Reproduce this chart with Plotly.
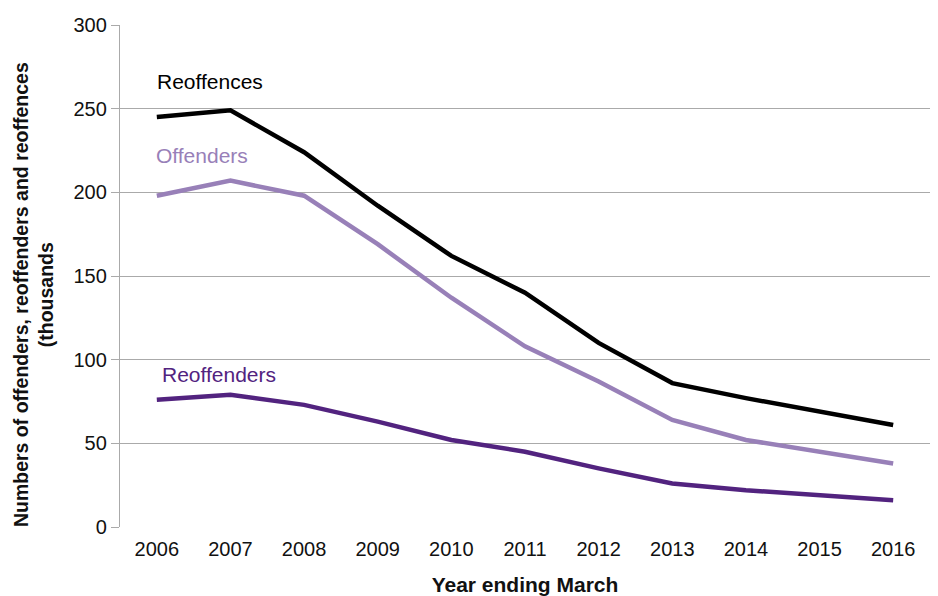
import plotly.graph_objects as go

years = ["2006", "2007", "2008", "2009", "2010", "2011", "2012", "2013", "2014", "2015", "2016"]
reoffences = [245, 249, 224, 192, 162, 140, 110, 86, 77, 69, 61]
offenders = [198, 207, 198, 169, 137, 108, 87, 64, 52, 45, 38]
reoffenders = [76, 79, 73, 63, 52, 45, 35, 26, 22, 19, 16]
y_ticks = [0, 50, 100, 150, 200, 250, 300]

C_BLACK = "#000000"
C_LIGHT = "#9880b8"
C_DARK = "#52237f"

fig = go.Figure()
for name, vals, col in [("Reoffences", reoffences, C_BLACK),
                        ("Offenders", offenders, C_LIGHT),
                        ("Reoffenders", reoffenders, C_DARK)]:
    fig.add_trace(go.Scatter(x=years, y=vals, mode="lines", name=name,
                             line=dict(color=col, width=4.5), showlegend=False))

font_family = "Liberation Sans, Arial, Helvetica, sans-serif"

fig.update_layout(
    width=938, height=596,
    margin=dict(l=120, r=8, t=25, b=69),
    paper_bgcolor="white", plot_bgcolor="white",
    font=dict(family=font_family, size=20, color="#111111"),
    xaxis=dict(
        type="category", range=[-0.5, len(years) - 0.5], automargin=False,
        showgrid=False, showline=False, ticks="",
        tickfont=dict(size=20), ticklabelstandoff=8,
        title=dict(text="<b>Year ending March</b>", font=dict(size=21), standoff=18),
    ),
    yaxis=dict(
        range=[0, 300], tickvals=y_ticks, showgrid=True, gridcolor="#aaaaaa", gridwidth=1.3,
        showline=True, linecolor="#aaaaaa", linewidth=1.3, automargin=False,
        ticks="outside", ticklen=8, tickcolor="#aaaaaa", tickwidth=1.3,
        tickfont=dict(size=20), zeroline=False,
    ),
)

fig.add_annotation(xref="paper", yref="paper", x=0, y=0.462, xshift=-87,
                   text="<b>Numbers of offenders, reoffenders and reoffences<br>(thousands</b>",
                   showarrow=False, textangle=-90, xanchor="center", yanchor="middle",
                   font=dict(size=19.5, color="#111111"))

fig.add_annotation(x=-0.02, y=266, xref="x", yref="y", text="Reoffences", showarrow=False,
                   xanchor="left", yanchor="middle", font=dict(size=21, color=C_BLACK))
fig.add_annotation(x=-0.04, y=222, xref="x", yref="y", text="Offenders", showarrow=False,
                   xanchor="left", yanchor="middle", font=dict(size=21, color=C_LIGHT))
fig.add_annotation(x=0.04, y=91, xref="x", yref="y", text="Reoffenders", showarrow=False,
                   xanchor="left", yanchor="middle", font=dict(size=21, color=C_DARK))

fig.write_html("out.html")
